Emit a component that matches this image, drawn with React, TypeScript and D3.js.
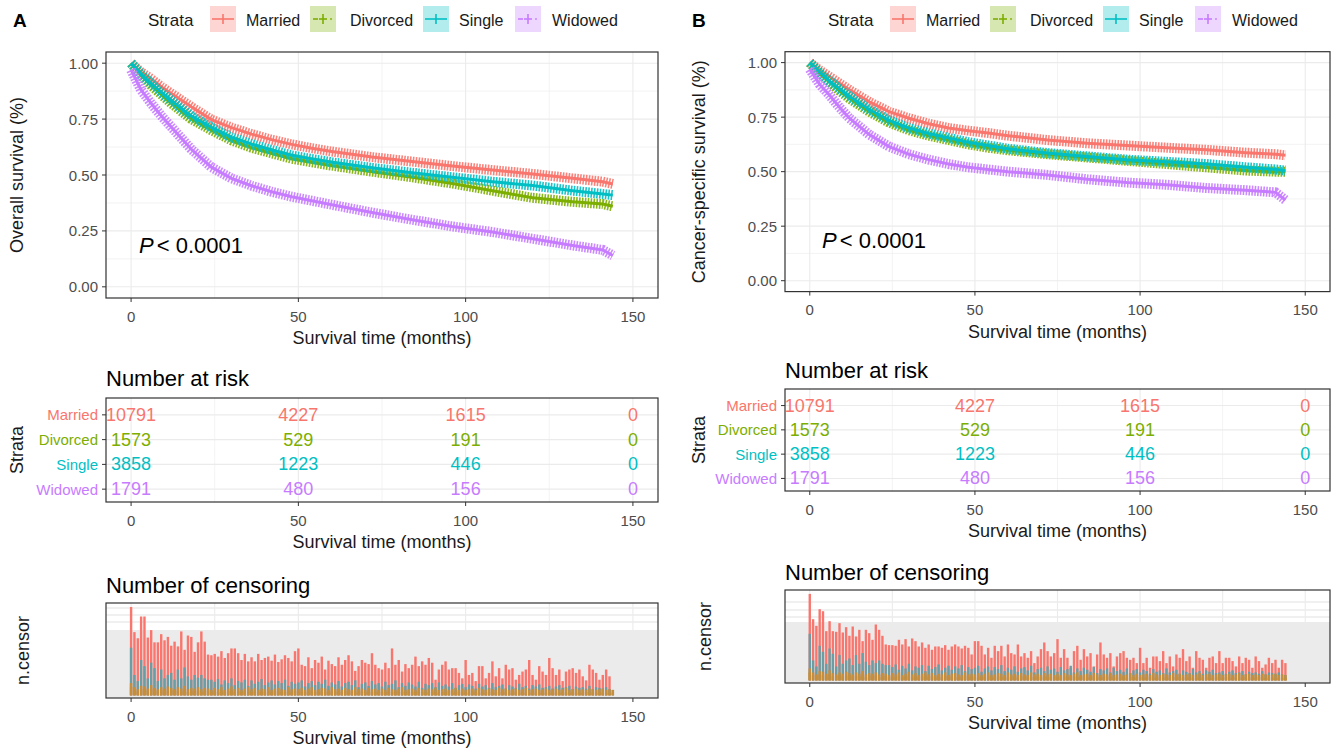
import React from 'react';
import * as d3 from 'd3';

const strata = ['Married', 'Divorced', 'Single', 'Widowed'];
const strataColors = ['#F8766D', '#7CAE00', '#00BFC4', '#C77CFF'];

// survival at these months
const survTimes = [0, 3, 6, 9, 12, 18, 24, 30, 36, 42, 48, 54, 60, 72, 84, 96, 108, 120, 132, 141, 144];

// A: overall survival
const osMarried = [1.0, 0.96, 0.93, 0.895, 0.865, 0.805, 0.748, 0.712, 0.683, 0.658, 0.637, 0.62, 0.605, 0.58, 0.56, 0.54, 0.522, 0.505, 0.485, 0.47, 0.46];
const osDivorced = [1.0, 0.945, 0.9, 0.86, 0.82, 0.75, 0.7, 0.655, 0.622, 0.597, 0.573, 0.557, 0.542, 0.515, 0.49, 0.462, 0.43, 0.398, 0.38, 0.37, 0.36];
const osSingle = [1.0, 0.95, 0.91, 0.87, 0.833, 0.763, 0.713, 0.668, 0.638, 0.612, 0.588, 0.572, 0.557, 0.532, 0.51, 0.49, 0.47, 0.453, 0.43, 0.415, 0.41];
const osWidowed = [0.97, 0.88, 0.82, 0.765, 0.715, 0.615, 0.535, 0.485, 0.452, 0.425, 0.403, 0.385, 0.367, 0.332, 0.3, 0.27, 0.245, 0.215, 0.185, 0.165, 0.14];

// B: cancer-specific survival
const cssMarried = [1.0, 0.965, 0.935, 0.905, 0.875, 0.82, 0.775, 0.745, 0.72, 0.7, 0.688, 0.677, 0.665, 0.645, 0.63, 0.62, 0.61, 0.6, 0.587, 0.58, 0.575];
const cssDivorced = [1.0, 0.95, 0.91, 0.87, 0.835, 0.775, 0.725, 0.69, 0.665, 0.645, 0.625, 0.61, 0.598, 0.58, 0.565, 0.55, 0.535, 0.52, 0.505, 0.5, 0.5];
const cssSingle = [1.0, 0.955, 0.915, 0.88, 0.845, 0.785, 0.735, 0.7, 0.675, 0.655, 0.635, 0.62, 0.605, 0.585, 0.57, 0.555, 0.545, 0.535, 0.52, 0.51, 0.505];
const cssWidowed = [0.97, 0.9, 0.85, 0.795, 0.745, 0.67, 0.615, 0.58, 0.555, 0.535, 0.52, 0.51, 0.5, 0.485, 0.465, 0.45, 0.44, 0.425, 0.415, 0.405, 0.37];

// number at risk
const riskTimes = [0, 50, 100, 150];
const riskMarried = [10791, 4227, 1615, 0];
const riskDivorced = [1573, 529, 191, 0];
const riskSingle = [3858, 1223, 446, 0];
const riskWidowed = [1791, 480, 156, 0];

// number censored per month (index = month)
const censMarriedA = [
  130, 93, 84, 116, 116, 85, 96, 78, 78, 90, 81, 86, 73, 79, 72, 94, 67, 88, 86, 64, 78, 94, 79, 60, 59,
  61, 57, 65, 55, 62, 69, 69, 62, 52, 61, 50, 56, 50, 61, 52, 55, 57, 51, 60, 49, 53,
  59, 55, 50, 65, 69, 45, 43, 56, 40, 52, 48, 57, 38, 51, 46, 43, 56, 45, 52, 59, 50, 36, 43, 52, 48, 46, 62, 45, 40,
  38, 48, 40, 69, 45, 52, 35, 46, 40, 45, 57, 43, 50, 45, 55, 48, 23, 38, 45, 50, 38, 40,
  40, 33, 25, 52, 30, 33, 21, 43, 43, 25, 33, 50, 28, 40, 25, 45, 38, 40, 23, 30, 35, 38, 52, 30, 23,
  43, 35, 30, 55, 40, 30, 38, 21, 35, 38, 40, 33, 38, 28, 22, 45, 38, 33, 23, 30, 38, 28,
];
const censMarriedB = [
  130, 92, 82, 107, 104, 74, 89, 74, 73, 86, 72, 80, 67, 81, 66, 76, 59, 76, 71, 61, 84, 76, 67, 54, 53,
  53, 52, 61, 54, 62, 51, 63, 59, 51, 57, 49, 54, 46, 51, 51, 49, 53, 46, 51, 54, 51, 48,
  52, 49, 39, 59, 59, 52, 39, 49, 34, 52, 44, 52, 36, 54, 41, 39, 54, 36, 41, 34, 44, 26, 36, 47, 57,
  44, 36, 41, 62, 34, 47, 34, 19, 44, 52, 31, 47, 36, 41, 21, 39, 57, 39, 34, 41, 21, 36, 41, 44, 34, 31,
  34, 26, 49, 26, 34, 19, 36, 36, 29, 44, 26, 36, 21, 39, 34, 47, 29, 36, 19, 44, 34, 31, 19, 34, 36,
  26, 44, 26, 34, 34, 29, 21, 36, 26, 34, 31, 19, 36, 29, 19, 24, 34, 26, 31, 19, 31, 26,
];
const censSingle = [
  70, 30, 21, 52, 43, 25, 48, 40, 21, 38, 25, 30, 33, 23, 38, 25, 41, 28, 23, 30, 26, 30, 25, 23, 23,
  20, 24, 16, 22, 18, 25, 15, 21, 19, 23, 14, 22, 17, 20, 24, 15, 19, 22, 16, 21, 18, 23, 14, 20, 17,
  19, 22, 13, 18, 21, 15, 20, 17, 23, 14, 19, 16, 21, 13, 18, 20, 15, 22, 12, 17, 19, 14, 21, 16, 18,
  13, 20, 15, 17, 22, 12, 18, 14, 19, 16, 13, 20, 11, 17, 15, 18, 12, 19, 14, 16, 13, 18, 11, 15, 17,
  12, 16, 14, 10, 17, 13, 15, 11, 18, 12, 14, 16, 10, 15, 13, 11, 17, 12, 14, 10, 15, 13, 16, 11, 12,
  14, 10, 13, 15, 11, 12, 14, 9, 13, 11, 12, 10, 14, 9, 12, 11, 10, 12, 9, 8,
];
const censDivorced = [
  18, 12, 9, 14, 13, 10, 15, 11, 9, 12, 10, 13, 11, 9, 12, 10, 14, 9, 11, 10, 12, 9, 11, 10, 8,
  11, 9, 12, 8, 10, 13, 9, 11, 8, 10, 12, 9, 11, 8, 10, 9, 12, 8, 10, 11, 9, 8, 12, 9, 10,
  9, 11, 8, 10, 12, 8, 9, 11, 10, 8, 12, 9, 10, 8, 11, 9, 8, 12, 9, 10, 8, 11, 9, 10, 8,
  10, 8, 11, 9, 8, 10, 12, 8, 9, 10, 8, 11, 9, 8, 10, 9, 11, 8, 9, 10, 8, 9, 11, 8, 10,
  8, 9, 10, 8, 11, 9, 8, 10, 9, 8, 11, 9, 10, 8, 9, 10, 8, 9, 11, 8, 9, 10, 8, 9, 10,
  8, 9, 10, 8, 9, 11, 8, 9, 10, 8, 9, 8, 10, 9, 8, 9, 10, 8, 9, 8,
];
const censWidowed = [
  12, 8, 6, 9, 8, 7, 9, 6, 7, 8, 6, 7, 8, 6, 7, 6, 8, 5, 7, 6, 7, 5, 6, 7, 5,
  6, 5, 7, 5, 6, 7, 5, 6, 5, 6, 7, 5, 6, 5, 6, 5, 7, 5, 6, 5, 6, 5, 7, 5, 6,
  5, 6, 5, 6, 7, 5, 5, 6, 5, 6, 5, 6, 5, 5, 6, 5, 6, 5, 5, 6, 5, 6, 5, 5, 6,
  5, 5, 6, 5, 5, 6, 5, 5, 6, 5, 5, 6, 5, 4, 5, 6, 5, 4, 5, 5, 6, 4, 5, 5, 4,
  5, 4, 5, 5, 4, 5, 4, 5, 5, 4, 5, 4, 5, 4, 4, 5, 4, 5, 4, 4, 5, 4, 4, 5, 4,
  4, 5, 4, 4, 5, 4, 4, 5, 4, 4, 4, 5, 4, 4, 4, 5, 4, 4, 4, 4,
];

const FONT = '"Liberation Sans", Arial, Helvetica, sans-serif';
const GRID = '#ebebeb';
const TICK_TXT = '#4d4d4d';

const layoutA = {
  letter: 'A', letterX: 13, legendX: 148, xRange: [106, 658], yTitleX: 17,
  surv: { top: 52, bottom: 298, title: 'Overall survival (%)', pX: 139, pY: 245 },
  risk: { top: 398, bottom: 502, titleY: 378 },
  cens: { top: 603, bottom: 698, titleY: 585, grayTop: 630, lines: [608, 615, 622] },
};
const layoutB = {
  letter: 'B', letterX: 692, legendX: 828, xRange: [785, 1330], yTitleX: 699,
  surv: { top: 51.7, bottom: 291.6, title: 'Cancer-specific survival (%)', pX: 822, pY: 240 },
  risk: { top: 389, bottom: 491, titleY: 370 },
  cens: { top: 590, bottom: 683, titleY: 572, grayTop: 622, lines: [602, 610, 617] },
};
// legend key / label offsets from "Strata"
const legendKeyDx = [62, 162, 275, 367];
const legendLabelDx = [98, 202, 311, 404];

function XAxis({ x, y0 }) {
  const mid = (x.range()[0] + x.range()[1]) / 2;
  return (
    <g>
      {[0, 50, 100, 150].map(t => (
        <g key={t}>
          <line x1={x(t)} x2={x(t)} y1={y0} y2={y0 + 4} stroke="#333" strokeWidth={1} />
          <text x={x(t)} y={y0 + 18} textAnchor="middle" dominantBaseline="central" fontSize={15} fill={TICK_TXT}>{t}</text>
        </g>
      ))}
      <text x={mid} y={y0 + 40} textAnchor="middle" dominantBaseline="central" fontSize={18} fill="#1a1a1a">Survival time (months)</text>
    </g>
  );
}

function Legend({ lay }) {
  const cy = 19;
  return (
    <g>
      <text x={lay.letterX} y={27} fontSize={19} fontWeight="bold" fill="#000">{lay.letter}</text>
      <text x={lay.legendX} y={20} dominantBaseline="central" fontSize={17} fill="#1a1a1a">Strata</text>
      {strata.map((s, i) => {
        const kx = lay.legendX + legendKeyDx[i];
        const c = strataColors[i];
        const dotted = i === 1 || i === 3;
        return (
          <g key={s}>
            <rect x={kx} y={6} width={26} height={26} fill={c} fillOpacity={0.3} />
            {dotted ? (
              <g stroke={c} strokeWidth={1.6}>
                <line x1={kx + 3} x2={kx + 8} y1={cy} y2={cy} />
                <line x1={kx + 9} x2={kx + 17} y1={cy} y2={cy} />
                <line x1={kx + 13} x2={kx + 13} y1={cy - 5} y2={cy + 5} />
                <circle cx={kx + 21} cy={cy} r={0.9} fill={c} stroke="none" />
              </g>
            ) : (
              <g stroke={c} strokeWidth={1.6}>
                <line x1={kx + 2} x2={kx + 24} y1={cy} y2={cy} />
                <line x1={kx + 13} x2={kx + 13} y1={cy - 5} y2={cy + 5} />
              </g>
            )}
            <text x={lay.legendX + legendLabelDx[i]} y={20} dominantBaseline="central" fontSize={16} fill="#1a1a1a">{s}</text>
          </g>
        );
      })}
    </g>
  );
}

function Panel({ lay, surv, censMarried }) {
  const x = d3.scaleLinear().domain([-7.5, 157.5]).range(lay.xRange);
  const [xl, xr] = lay.xRange;
  const pw = xr - xl;
  const major = [0, 50, 100, 150];
  const minor = [25, 75, 125];

  // survival plot
  const S = lay.surv;
  const y = d3.scaleLinear().domain([-0.05, 1.05]).range([S.bottom, S.top]);
  const line = d3.line<number>().x((_, i) => x(survTimes[i])).y(v => y(v));

  // risk table
  const R = lay.risk;
  const yr = d3.scalePoint<string>().domain(strata).range([R.top + 2, R.bottom + 2]).padding(0.6);
  const riskRows = [riskMarried, riskDivorced, riskSingle, riskWidowed];

  // censoring
  const C = lay.cens;
  const cMax = d3.max(censMarried);
  const yc = d3.scaleLinear().domain([-cMax * 0.03, cMax * 1.045]).range([C.bottom, C.top]);
  const bw = (x(1) - x(0)) * 0.72;
  const censSeries = [
    { data: censMarried, color: '#F8766D' },
    { data: censSingle, color: '#6a9ea4' },
    { data: censWidowed, color: '#c68e3a' },
    { data: censDivorced, color: '#c68e3a' },
  ];

  return (
    <g>
      <Legend lay={lay} />

      {/* survival curves */}
      <rect x={xl} y={S.top} width={pw} height={S.bottom - S.top} fill="#fff" />
      {minor.map(t => <line key={'vm' + t} x1={x(t)} x2={x(t)} y1={S.top} y2={S.bottom} stroke={GRID} strokeWidth={0.6} />)}
      {major.map(t => <line key={'vM' + t} x1={x(t)} x2={x(t)} y1={S.top} y2={S.bottom} stroke={GRID} strokeWidth={1.1} />)}
      {[0.125, 0.375, 0.625, 0.875].map(v => <line key={'hm' + v} x1={xl} x2={xr} y1={y(v)} y2={y(v)} stroke={GRID} strokeWidth={0.6} />)}
      {[0, 0.25, 0.5, 0.75, 1].map(v => <line key={'hM' + v} x1={xl} x2={xr} y1={y(v)} y2={y(v)} stroke={GRID} strokeWidth={1.1} />)}
      {surv.map((vals, i) => (
        <g key={strata[i]}>
          <path d={line(vals)} fill="none" stroke={strataColors[i]} strokeWidth={10} strokeDasharray="1.6 1.3" strokeOpacity={0.9} />
          <path d={line(vals)} fill="none" stroke={strataColors[i]} strokeWidth={3} />
        </g>
      ))}
      <rect x={xl} y={S.top} width={pw} height={S.bottom - S.top} fill="none" stroke="#333" strokeWidth={1.2} />
      {[0, 0.25, 0.5, 0.75, 1].map(v => (
        <g key={'yt' + v}>
          <line x1={xl - 4} x2={xl} y1={y(v)} y2={y(v)} stroke="#333" />
          <text x={xl - 8} y={y(v)} textAnchor="end" dominantBaseline="central" fontSize={15} fill={TICK_TXT}>{d3.format('.2f')(v)}</text>
        </g>
      ))}
      <text transform={`translate(${lay.yTitleX},${(S.top + S.bottom) / 2}) rotate(-90)`} textAnchor="middle" dominantBaseline="central" fontSize={18} fill="#1a1a1a">{S.title}</text>
      <XAxis x={x} y0={S.bottom} />
      <text x={S.pX} y={S.pY} dominantBaseline="central" fontSize={22} fill="#000">
        <tspan fontStyle="italic">P</tspan>
        <tspan dx={3}>{'< 0.0001'}</tspan>
      </text>

      {/* number at risk */}
      <text x={xl} y={R.titleY} dominantBaseline="central" fontSize={22} fill="#000">Number at risk</text>
      <rect x={xl} y={R.top} width={pw} height={R.bottom - R.top} fill="#fff" />
      {minor.map(t => <line key={'rm' + t} x1={x(t)} x2={x(t)} y1={R.top} y2={R.bottom} stroke={GRID} strokeWidth={0.6} />)}
      {major.map(t => <line key={'rM' + t} x1={x(t)} x2={x(t)} y1={R.top} y2={R.bottom} stroke={GRID} strokeWidth={1.1} />)}
      {strata.map(s => <line key={'rh' + s} x1={xl} x2={xr} y1={yr(s)} y2={yr(s)} stroke={GRID} strokeWidth={1.1} />)}
      {strata.map((s, i) => (
        <g key={'rr' + s}>
          {riskRows[i].map((n, j) => (
            <text key={j} x={x(riskTimes[j])} y={yr(s)} textAnchor="middle" dominantBaseline="central" fontSize={18} fill={strataColors[i]}>{n}</text>
          ))}
          <line x1={xl - 4} x2={xl} y1={yr(s)} y2={yr(s)} stroke="#333" />
          <text x={xl - 8} y={yr(s)} textAnchor="end" dominantBaseline="central" fontSize={15} fill={strataColors[i]}>{s}</text>
        </g>
      ))}
      <rect x={xl} y={R.top} width={pw} height={R.bottom - R.top} fill="none" stroke="#333" strokeWidth={1.2} />
      <text transform={`translate(${lay.yTitleX},${(R.top + R.bottom) / 2}) rotate(-90)`} textAnchor="middle" dominantBaseline="central" fontSize={18} fill="#1a1a1a">Strata</text>
      <XAxis x={x} y0={R.bottom} />

      {/* number of censoring */}
      <text x={xl} y={C.titleY} dominantBaseline="central" fontSize={22} fill="#000">Number of censoring</text>
      <rect x={xl} y={C.top} width={pw} height={C.bottom - C.top} fill="#fff" />
      {d3.range(0, 151, 25).map(t => <line key={'cv' + t} x1={x(t)} x2={x(t)} y1={C.top} y2={C.grayTop} stroke={GRID} strokeWidth={1.1} />)}
      {C.lines.map(v => <line key={'ch' + v} x1={xl} x2={xr} y1={v} y2={v} stroke={GRID} strokeWidth={1.6} />)}
      <rect x={xl} y={C.grayTop} width={pw} height={C.bottom - C.grayTop} fill="#ebebeb" />
      {censSeries.map((ser, k) => (
        <g key={'cs' + k} fill={ser.color}>
          {ser.data.map((n, m) => (
            <rect key={m} x={x(m) - bw / 2} y={yc(n)} width={bw} height={yc(0) - yc(n)} />
          ))}
        </g>
      ))}
      <rect x={xl} y={C.top} width={pw} height={C.bottom - C.top} fill="none" stroke="#333" strokeWidth={1.2} />
      <text transform={`translate(${lay.yTitleX + 6},${(C.top + C.bottom) / 2}) rotate(-90)`} textAnchor="middle" dominantBaseline="central" fontSize={18} fill="#1a1a1a">n.censor</text>
      <XAxis x={x} y0={C.bottom} />
    </g>
  );
}

export default function App() {
  return (
    <svg width={1343} height={752} style={{ position: 'absolute', left: 0, top: 0, background: '#fff' }} fontFamily={FONT}>
      <rect width={1343} height={752} fill="#fff" />
      <Panel lay={layoutA} surv={[osMarried, osDivorced, osSingle, osWidowed]} censMarried={censMarriedA} />
      <Panel lay={layoutB} surv={[cssMarried, cssDivorced, cssSingle, cssWidowed]} censMarried={censMarriedB} />
    </svg>
  );
}
